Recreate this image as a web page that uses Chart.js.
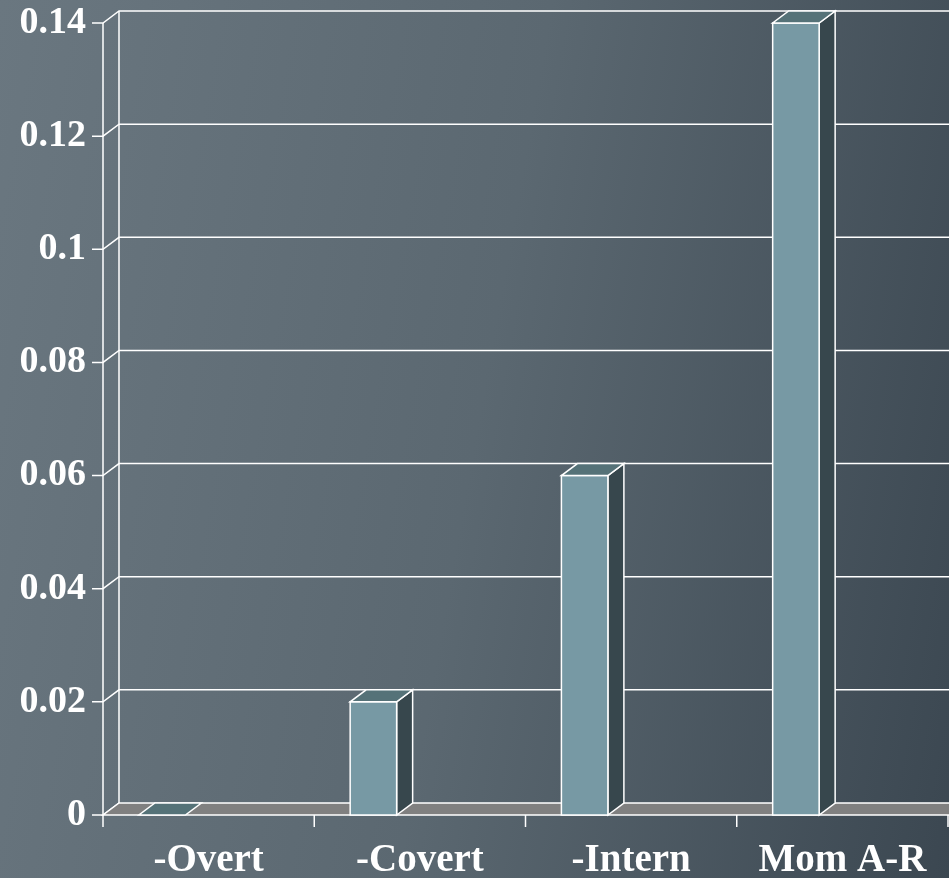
<!DOCTYPE html>
<html>
<head>
<meta charset="utf-8">
<script src="https://cdn.jsdelivr.net/npm/chart.js@4.4.0/dist/chart.umd.min.js"></script>
<style>
  html, body { margin: 0; padding: 0; }
  body {
    width: 949px; height: 878px; overflow: hidden;
    background: linear-gradient(100deg, #6a7780 0%, #5b6871 50%, #3b4751 100%);
  }
  canvas { display: block; }
</style>
</head>
<body>
<canvas id="chart" width="949" height="878"></canvas>
<script>
const categories = ['-Overt', '-Covert', '-Intern', 'Mom A-R'];
const values = [0, 0.02, 0.06, 0.14];
const yTicks = [0, 0.02, 0.04, 0.06, 0.08, 0.1, 0.12, 0.14];
const yTickLabels = ['0', '0.02', '0.04', '0.06', '0.08', '0.1', '0.12', '0.14'];

// 3D look (depth of the back wall / bars)
const DX = 16, DY = -12;
const LINE = '#ffffff';
const FAMILY = '"Liberation Serif", "Times New Roman", serif';

function seg(ctx, pts, fill) {
    ctx.beginPath();
    ctx.moveTo(pts[0][0], pts[0][1]);
    for (let i = 1; i < pts.length; i++) ctx.lineTo(pts[i][0], pts[i][1]);
    ctx.closePath();
    if (fill) { ctx.fillStyle = fill; ctx.fill(); }
    ctx.stroke();
}

const box3d = {
    id: 'box3d',
    beforeDatasetsDraw(chart) {
        const { ctx, chartArea: a, scales: { x, y } } = chart;
        ctx.save();
        ctx.strokeStyle = LINE;
        ctx.lineWidth = 1.5;

        // wall gridlines, diagonals and ticks on the front axis
        yTicks.forEach(v => {
            const py = y.getPixelForValue(v);
            ctx.beginPath();
            ctx.moveTo(a.left - 11, py);
            ctx.lineTo(a.left, py);
            ctx.lineTo(a.left + DX, py + DY);
            if (v > 0) ctx.lineTo(chart.width, py + DY);
            ctx.stroke();
        });

        // back wall edge + front axis
        ctx.beginPath();
        ctx.moveTo(a.left + DX, y.getPixelForValue(yTicks[yTicks.length - 1]) + DY);
        ctx.lineTo(a.left + DX, a.bottom + DY);
        ctx.moveTo(a.left, y.getPixelForValue(yTicks[yTicks.length - 1]));
        ctx.lineTo(a.left, a.bottom);
        ctx.stroke();

        // floor
        seg(ctx, [[a.left, a.bottom], [a.right + DX, a.bottom], [a.right + DX, a.bottom + DY], [a.left + DX, a.bottom + DY]], '#808080');

        // x ticks at category borders
        const w = (x.right - x.left) / categories.length;
        ctx.beginPath();
        for (let i = 0; i <= categories.length; i++) {
            const px = Math.min(x.left + i * w, chart.width - 1);
            ctx.moveTo(px, a.bottom);
            ctx.lineTo(px, a.bottom + 12);
        }
        ctx.stroke();
        ctx.restore();
    },
    afterDatasetsDraw(chart) {
        const { ctx, scales: { x, y } } = chart;
        const w = (x.right - x.left) / categories.length;
        const base = y.getPixelForValue(0);
        ctx.save();
        ctx.strokeStyle = LINE;
        ctx.lineWidth = 1.5;
        ctx.lineJoin = 'miter';
        values.forEach((v, i) => {
            const cx = x.getPixelForValue(i);
            const l = cx - 0.33 * w;
            const r = l + 0.22 * w;
            const t = y.getPixelForValue(v);
            if (base - t > 0.5) {
                // side + front
                seg(ctx, [[r, t], [r + DX, t + DY], [r + DX, base + DY], [r, base]], '#37474d');
                seg(ctx, [[l, t], [r, t], [r, base], [l, base]], '#7799a4');
            }
            // top
            seg(ctx, [[l, t], [r, t], [r + DX, t + DY], [l + DX, t + DY]], '#557278');
        });
        ctx.restore();
    }
};

new Chart(document.getElementById('chart').getContext('2d'), {
    type: 'bar',
    data: {
        labels: categories,
        datasets: [{
            data: values,
            backgroundColor: 'rgba(0,0,0,0)',
            borderWidth: 0
        }]
    },
    options: {
        responsive: false,
        animation: false,
        layout: { padding: { top: 0, right: 1, left: 0, bottom: 0 } },
        plugins: { legend: { display: false }, tooltip: { enabled: false } },
        scales: {
            x: {
                grid: { display: false },
                border: { display: false },
                ticks: {
                    color: '#ffffff', padding: 15, maxRotation: 0, autoSkip: false,
                    font: { family: FAMILY, size: 39, weight: 'bold' }
                },
                afterFit: s => { s.height = 63; }
            },
            y: {
                min: 0,
                max: 0.14,
                grid: { display: false },
                border: { display: false },
                afterBuildTicks: s => { s.ticks = yTicks.map(v => ({ value: v })); },
                ticks: {
                    color: '#ffffff', padding: 9,
                    // small line height keeps the plot top at the right spot
                    font: { family: FAMILY, size: 38, weight: 'bold', lineHeight: '28px' },
                    callback: (v, i) => yTickLabels[i]
                },
                afterFit: s => { s.width = 103; }
            }
        }
    },
    plugins: [box3d]
});
</script>
</body>
</html>
